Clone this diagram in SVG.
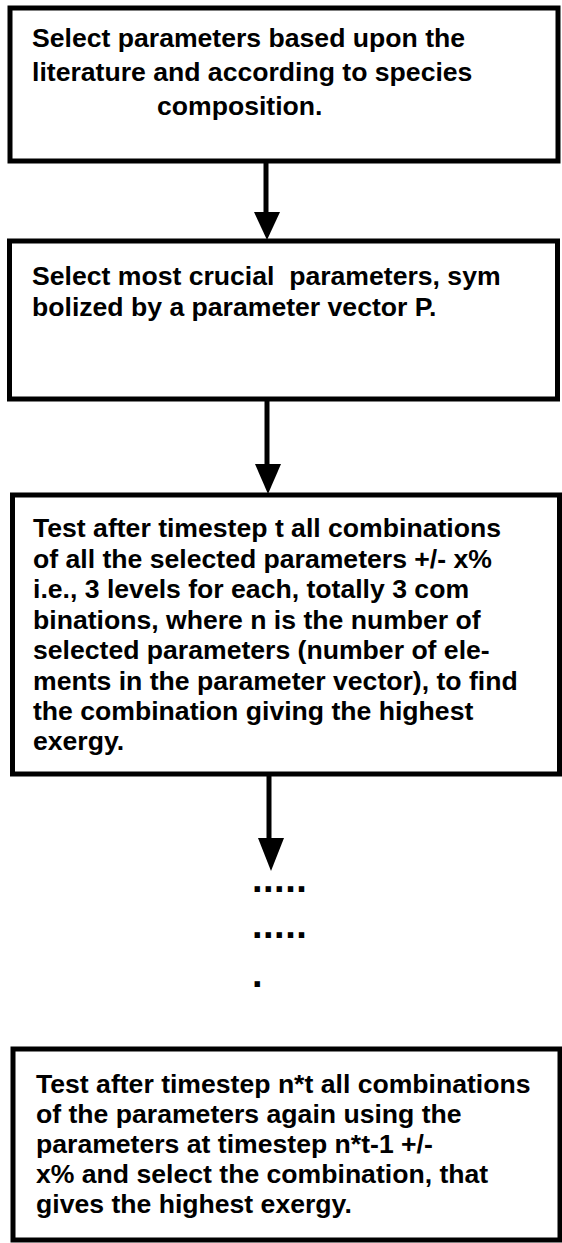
<svg xmlns="http://www.w3.org/2000/svg" width="562" height="1243" viewBox="0 0 562 1243">
<style>
.box{fill:#fff;stroke:#000;stroke-width:5}
.t{font-family:"Liberation Sans",Arial,sans-serif;font-weight:bold;font-size:26.6px;fill:#000}
.c{stroke:#000;stroke-width:5;fill:none}
.h{fill:#000}
.d{font-family:"Liberation Sans",Arial,sans-serif;font-weight:bold;font-size:38px;fill:#000;letter-spacing:0.5px}
</style>
<rect width="562" height="1243" fill="#fff"/>
<g id="connectors">
<line class="c" x1="266" y1="161" x2="266" y2="215"/>
<polygon class="h" points="254,212 280,212 267,240"/>
<line class="c" x1="267" y1="399" x2="267" y2="468"/>
<polygon class="h" points="255,464 281,464 268,494"/>
<line class="c" x1="269" y1="774" x2="269" y2="842"/>
<polygon class="h" points="258,838 284,838 271,871"/>
</g>
<g id="node1">
<rect class="box" x="10" y="8" width="548" height="153"/>
<text class="t" x="32" y="47">Select parameters based upon the</text>
<text class="t" x="32" y="81">literature and according to species</text>
<text class="t" x="157" y="115">composition.</text>
</g>
<g id="node2">
<rect class="box" x="9.5" y="241" width="548" height="158"/>
<text class="t" x="32" y="285" xml:space="preserve">Select most crucial  parameters, sym</text>
<text class="t" x="32" y="316">bolized by a parameter vector P.</text>
</g>
<g id="node3">
<rect class="box" x="12.5" y="495" width="547" height="279"/>
<text class="t" x="33" y="537">Test after timestep t all combinations</text>
<text class="t" x="33" y="567.5">of all the selected parameters +/- x%</text>
<text class="t" x="33" y="598">i.e., 3 levels for each, totally 3 com</text>
<text class="t" x="33" y="628.5">binations, where n is the number of</text>
<text class="t" x="33" y="659">selected parameters (number of ele-</text>
<text class="t" x="33" y="689.5">ments in the parameter vector), to find</text>
<text class="t" x="33" y="720">the combination giving the highest</text>
<text class="t" x="33" y="750">exergy.</text>
</g>
<g id="dots">
<text class="d" x="252" y="892">.....</text>
<text class="d" x="252" y="938">.....</text>
<text class="d" x="252" y="987">.</text>
</g>
<g id="node4">
<rect class="box" x="13" y="1049" width="547" height="191"/>
<text class="t" x="36" y="1093">Test after timestep n*t all combinations</text>
<text class="t" x="36" y="1123">of the parameters again using the</text>
<text class="t" x="36" y="1153">parameters at timestep n*t-1 +/-</text>
<text class="t" x="36" y="1183">x% and select the combination, that</text>
<text class="t" x="36" y="1213">gives the highest exergy.</text>
</g>
</svg>
